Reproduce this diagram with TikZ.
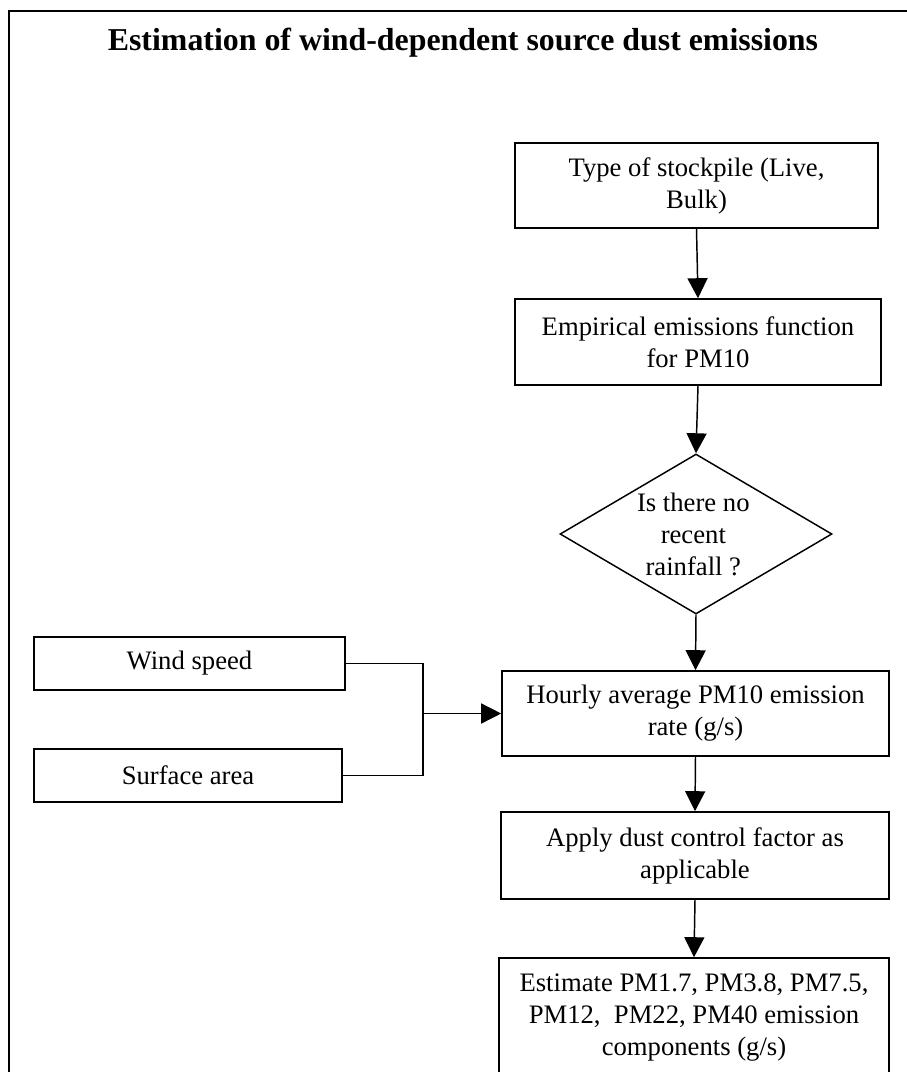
\documentclass[tikz,border=0pt]{standalone}
\usepackage{fontspec}
\setmainfont{Liberation Serif}
\usetikzlibrary{arrows.meta,shapes.geometric}

\begin{document}
\begin{tikzpicture}[x=0.75pt,y=-0.75pt,
    box/.style={rectangle,draw,line width=1.2pt,align=center,inner sep=0pt,font=\fontsize{20}{24}\selectfont},
    decision/.style={diamond,draw,line width=1.1pt,inner sep=0pt,minimum width=204pt,minimum height=120pt},
    txt/.style={align=center,inner sep=0pt,font=\fontsize{20}{24}\selectfont},
    arr/.style={-{Triangle[length=15pt,width=15pt]},line width=1.1pt},
    link/.style={line width=1.1pt},
]
\clip (0,0) rectangle (907,1072);
\draw[line width=1.5pt] (9,1072) -- (9,11) -- (907,11);
\node[anchor=base,font=\fontsize{23.9}{28}\selectfont\bfseries] (title) at (463,50) {Estimation of wind-dependent source dust emissions};

\node[box,minimum width=272.25pt,minimum height=63.75pt] (type) at (696.5,185.5) {Type of stockpile (Live,\\Bulk)};
\node[box,minimum width=274.5pt,minimum height=64.5pt] (emp) at (698,342) {Empirical emissions function\\for PM10};
\node[decision,label={[txt,xshift=-2pt]center:{Is there no\\recent\\rainfall ?}}] (rain) at (696,534) {};
\node[box,minimum width=233.25pt,minimum height=39.75pt] (wind) at (189.5,663.5) {Wind speed};
\node[box,minimum width=231pt,minimum height=39.75pt] (surf) at (188,775.5) {Surface area};
\node[box,minimum width=290.25pt,minimum height=63.75pt] (hourly) at (695.5,713.5) {Hourly average PM10 emission\\rate (g/s)};
\node[box,minimum width=291pt,minimum height=65.25pt] (apply) at (695,855.5) {Apply dust control factor as\\applicable};
\node[box,minimum width=292.5pt,minimum height=88.5pt] (est) at (694,1017) {Estimate PM1.7, PM3.8, PM7.5,\\PM12,~ PM22, PM40 emission\\components (g/s)};
\coordinate (join) at (423,713.5);

\draw[arr] (type.south) -- (emp.north);
\draw[arr] (emp.south) -- (rain.north);
\draw[arr] (rain.south) -- (hourly.north);
\draw[arr] (hourly.south) -- (apply.north);
\draw[arr] (apply.south) -- (est.north);
\draw[link] (wind.east) -| (join);
\draw[link] (surf.east) -| (join);
\draw[arr] (join) -- (hourly.west);
\end{tikzpicture}
\end{document}
